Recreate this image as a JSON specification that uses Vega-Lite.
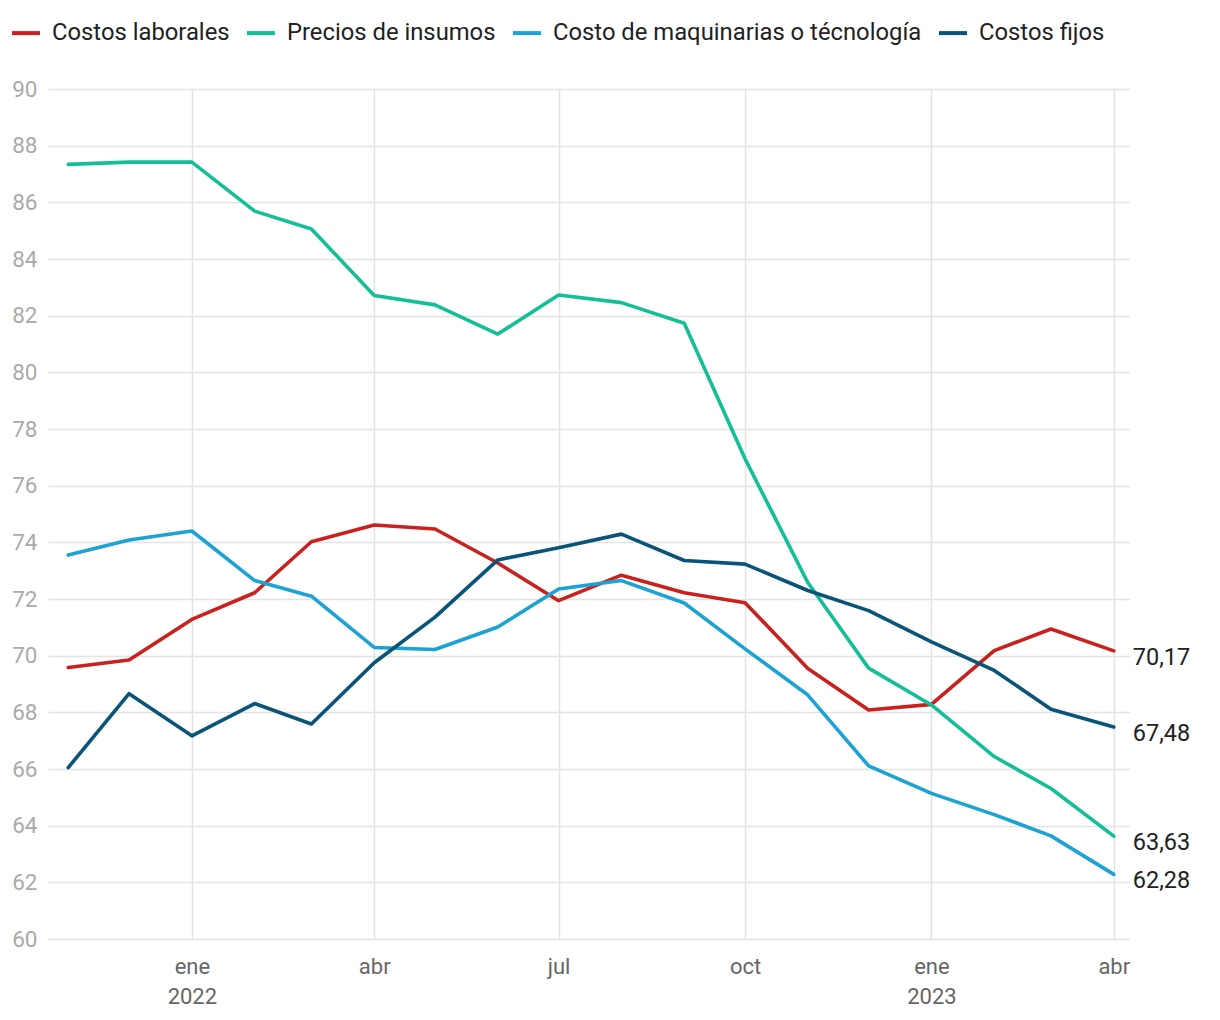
{
  "$schema": "https://vega.github.io/schema/vega-lite/v6.json",
  "width": 1082,
  "height": 850,
  "autosize": {"type": "none"},
  "padding": {"left": 48, "top": 89, "right": 90, "bottom": 81},
  "background": "white",
  "config": {
    "font": "Roboto",
    "view": {"stroke": null},
    "locale": {
      "number": {"decimal": ",", "thousands": ".", "grouping": [3], "currency": ["", " €"]}
    }
  },
  "data": {
    "values": [
      {"date": "2021-11-01", "serie": "Costos laborales", "value": 69.58},
      {"date": "2021-12-01", "serie": "Costos laborales", "value": 69.85},
      {"date": "2022-01-01", "serie": "Costos laborales", "value": 71.28},
      {"date": "2022-02-01", "serie": "Costos laborales", "value": 72.22},
      {"date": "2022-03-01", "serie": "Costos laborales", "value": 74.02},
      {"date": "2022-04-01", "serie": "Costos laborales", "value": 74.61},
      {"date": "2022-05-01", "serie": "Costos laborales", "value": 74.47},
      {"date": "2022-06-01", "serie": "Costos laborales", "value": 73.27},
      {"date": "2022-07-01", "serie": "Costos laborales", "value": 71.94},
      {"date": "2022-08-01", "serie": "Costos laborales", "value": 72.84},
      {"date": "2022-09-01", "serie": "Costos laborales", "value": 72.22},
      {"date": "2022-10-01", "serie": "Costos laborales", "value": 71.87},
      {"date": "2022-11-01", "serie": "Costos laborales", "value": 69.55},
      {"date": "2022-12-01", "serie": "Costos laborales", "value": 68.08},
      {"date": "2023-01-01", "serie": "Costos laborales", "value": 68.28},
      {"date": "2023-02-01", "serie": "Costos laborales", "value": 70.18},
      {"date": "2023-03-01", "serie": "Costos laborales", "value": 70.94},
      {"date": "2023-04-01", "serie": "Costos laborales", "value": 70.17},

      {"date": "2021-11-01", "serie": "Precios de insumos", "value": 87.34},
      {"date": "2021-12-01", "serie": "Precios de insumos", "value": 87.42},
      {"date": "2022-01-01", "serie": "Precios de insumos", "value": 87.42},
      {"date": "2022-02-01", "serie": "Precios de insumos", "value": 85.69},
      {"date": "2022-03-01", "serie": "Precios de insumos", "value": 85.06},
      {"date": "2022-04-01", "serie": "Precios de insumos", "value": 82.71},
      {"date": "2022-05-01", "serie": "Precios de insumos", "value": 82.38},
      {"date": "2022-06-01", "serie": "Precios de insumos", "value": 81.35},
      {"date": "2022-07-01", "serie": "Precios de insumos", "value": 82.73},
      {"date": "2022-08-01", "serie": "Precios de insumos", "value": 82.46},
      {"date": "2022-09-01", "serie": "Precios de insumos", "value": 81.73},
      {"date": "2022-10-01", "serie": "Precios de insumos", "value": 76.95},
      {"date": "2022-11-01", "serie": "Precios de insumos", "value": 72.58},
      {"date": "2022-12-01", "serie": "Precios de insumos", "value": 69.56},
      {"date": "2023-01-01", "serie": "Precios de insumos", "value": 68.26},
      {"date": "2023-02-01", "serie": "Precios de insumos", "value": 66.44},
      {"date": "2023-03-01", "serie": "Precios de insumos", "value": 65.31},
      {"date": "2023-04-01", "serie": "Precios de insumos", "value": 63.63},

      {"date": "2021-11-01", "serie": "Costo de maquinarias o técnología", "value": 73.55},
      {"date": "2021-12-01", "serie": "Costo de maquinarias o técnología", "value": 74.08},
      {"date": "2022-01-01", "serie": "Costo de maquinarias o técnología", "value": 74.40},
      {"date": "2022-02-01", "serie": "Costo de maquinarias o técnología", "value": 72.65},
      {"date": "2022-03-01", "serie": "Costo de maquinarias o técnología", "value": 72.10},
      {"date": "2022-04-01", "serie": "Costo de maquinarias o técnología", "value": 70.29},
      {"date": "2022-05-01", "serie": "Costo de maquinarias o técnología", "value": 70.22},
      {"date": "2022-06-01", "serie": "Costo de maquinarias o técnología", "value": 71.01},
      {"date": "2022-07-01", "serie": "Costo de maquinarias o técnología", "value": 72.35},
      {"date": "2022-08-01", "serie": "Costo de maquinarias o técnología", "value": 72.65},
      {"date": "2022-09-01", "serie": "Costo de maquinarias o técnología", "value": 71.86},
      {"date": "2022-10-01", "serie": "Costo de maquinarias o técnología", "value": 70.24},
      {"date": "2022-11-01", "serie": "Costo de maquinarias o técnología", "value": 68.61},
      {"date": "2022-12-01", "serie": "Costo de maquinarias o técnología", "value": 66.11},
      {"date": "2023-01-01", "serie": "Costo de maquinarias o técnología", "value": 65.14},
      {"date": "2023-02-01", "serie": "Costo de maquinarias o técnología", "value": 64.39},
      {"date": "2023-03-01", "serie": "Costo de maquinarias o técnología", "value": 63.64},
      {"date": "2023-04-01", "serie": "Costo de maquinarias o técnología", "value": 62.28},

      {"date": "2021-11-01", "serie": "Costos fijos", "value": 66.05},
      {"date": "2021-12-01", "serie": "Costos fijos", "value": 68.66},
      {"date": "2022-01-01", "serie": "Costos fijos", "value": 67.17},
      {"date": "2022-02-01", "serie": "Costos fijos", "value": 68.31},
      {"date": "2022-03-01", "serie": "Costos fijos", "value": 67.59},
      {"date": "2022-04-01", "serie": "Costos fijos", "value": 69.75},
      {"date": "2022-05-01", "serie": "Costos fijos", "value": 71.36},
      {"date": "2022-06-01", "serie": "Costos fijos", "value": 73.38},
      {"date": "2022-07-01", "serie": "Costos fijos", "value": 73.81},
      {"date": "2022-08-01", "serie": "Costos fijos", "value": 74.29},
      {"date": "2022-09-01", "serie": "Costos fijos", "value": 73.36},
      {"date": "2022-10-01", "serie": "Costos fijos", "value": 73.23},
      {"date": "2022-11-01", "serie": "Costos fijos", "value": 72.30},
      {"date": "2022-12-01", "serie": "Costos fijos", "value": 71.59},
      {"date": "2023-01-01", "serie": "Costos fijos", "value": 70.49},
      {"date": "2023-02-01", "serie": "Costos fijos", "value": 69.48},
      {"date": "2023-03-01", "serie": "Costos fijos", "value": 68.11},
      {"date": "2023-04-01", "serie": "Costos fijos", "value": 67.48}
    ]
  },
  "encoding": {
    "x": {
      "field": "date",
      "type": "temporal",
      "scale": {
        "type": "utc",
        "domain": [
          {"year": 2021, "month": 10, "date": 22, "utc": true},
          {"year": 2023, "month": 4, "date": 9, "utc": true}
        ]
      },
      "axis": {
        "title": null,
        "values": [
          {"year": 2022, "month": 1, "date": 1, "utc": true},
          {"year": 2022, "month": 4, "date": 1, "utc": true},
          {"year": 2022, "month": 7, "date": 1, "utc": true},
          {"year": 2022, "month": 10, "date": 1, "utc": true},
          {"year": 2023, "month": 1, "date": 1, "utc": true},
          {"year": 2023, "month": 4, "date": 1, "utc": true}
        ],
        "labelExpr": "utcmonth(datum.value) == 0 ? [['ene','feb','mar','abr','may','jun','jul','ago','sep','oct','nov','dic'][utcmonth(datum.value)], utcFormat(datum.value, '%Y')] : ['ene','feb','mar','abr','may','jun','jul','ago','sep','oct','nov','dic'][utcmonth(datum.value)]",
        "labelFont": "Roboto",
        "labelFontSize": 22,
        "labelColor": "#666666",
        "labelPadding": 17,
        "labelLineHeight": 30,
        "labelBaseline": "top",
        "ticks": false,
        "domain": false,
        "grid": true,
        "gridColor": "#e3e3e3",
        "gridWidth": 1.5
      }
    },
    "y": {
      "field": "value",
      "type": "quantitative",
      "scale": {"domain": [60, 90], "nice": false, "zero": false},
      "axis": {
        "title": null,
        "values": [60, 62, 64, 66, 68, 70, 72, 74, 76, 78, 80, 82, 84, 86, 88, 90],
        "labelFont": "Roboto",
        "labelFontSize": 22.5,
        "labelColor": "#aaaaaa",
        "labelPadding": 11,
        "ticks": false,
        "domain": false,
        "grid": true,
        "gridColor": "#e3e3e3",
        "gridWidth": 1.5
      }
    },
    "color": {
      "field": "serie",
      "type": "nominal",
      "scale": {
        "domain": ["Costos laborales", "Precios de insumos", "Costo de maquinarias o técnología", "Costos fijos"],
        "range": ["#c9211e", "#14bf98", "#1ca3d3", "#0a5479"]
      },
      "legend": {
        "title": null,
        "orient": "none",
        "direction": "horizontal",
        "legendX": -38,
        "legendY": -72,
        "symbolType": "stroke",
        "symbolSize": 784,
        "symbolStrokeWidth": 4,
        "labelFont": "Roboto",
        "labelFontSize": 23.8,
        "labelColor": "#222222",
        "labelOffset": 10,
        "columnPadding": 9,
        "labelLimit": 450
      }
    }
  },
  "layer": [
    {
      "mark": {"type": "line", "strokeWidth": 3.6, "strokeJoin": "round", "strokeCap": "round"}
    },
    {
      "transform": [{"filter": "utcyear(datum.date) == 2023 && utcmonth(datum.date) == 3"}],
      "mark": {"type": "text", "align": "left", "baseline": "middle", "dx": 19, "dy": 7, "font": "Roboto", "fontSize": 23.5, "color": "#222222"},
      "encoding": {
        "text": {"field": "value", "type": "quantitative", "format": ".2f"},
        "color": {"value": "#222222"}
      }
    }
  ]
}
